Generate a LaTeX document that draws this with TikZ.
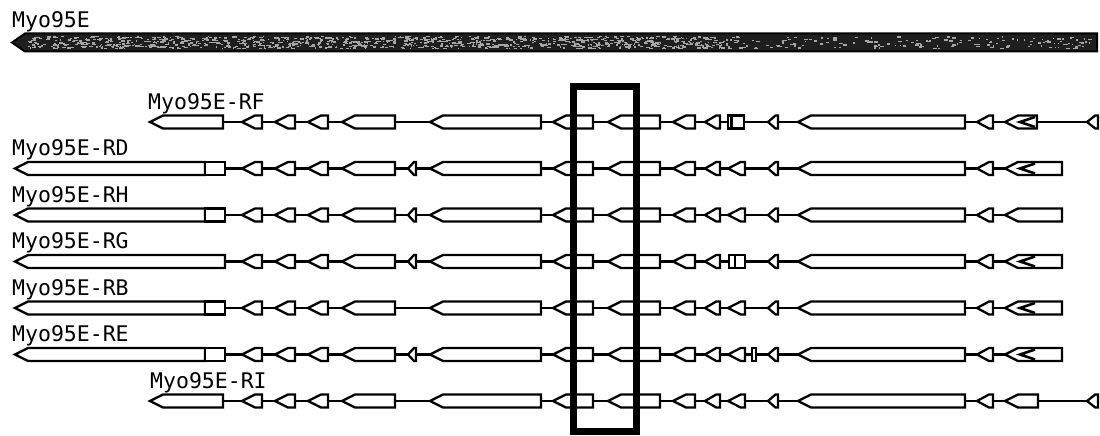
\documentclass[tikz,border=0pt]{standalone}
\usepackage{fontspec}
\newfontfamily\labfont{DejaVu Sans Mono}
\tikzset{
  exon/.style={draw=black, fill=white, line width=2.3pt, line join=miter},
  intron/.style={draw=black, line width=2.2pt},
  gname/.style={anchor=base west, inner sep=0pt, font=\labfont\fontsize{21.5}{22}\selectfont},
  hilite/.style={draw=black, line width=6.5pt},
  locus/.style={draw=black, fill=black!88, line width=2pt},
  speck/.style={fill=black!35},
}
% coding exon, pointed to the left: left tip x, right x, row y
\newcommand\cds[3]{%
  \pgfmathsetmacro\hd{min(13,0.75*(#2-#1))}%
  \draw[exon] (#1,#3) -- (#1+\hd,#3-6.5) -- (#2,#3-6.5) -- (#2,#3+6.5) -- (#1+\hd,#3+6.5) -- cycle;}
% untranslated block: left x, right x, row y
\newcommand\utr[3]{\draw[exon] (#1,#3-6.5) rectangle (#2,#3+6.5);}
% overlapping start marker inside the last exon
\newcommand\chev[1]{\draw[line width=2.6pt] (1035,#1-5) -- (1020,#1) -- (1035,#1+5);}
% exons shared by every transcript
\newcommand\shared[1]{%
  \cds{242}{262}{#1}\cds{275}{295}{#1}\cds{308}{328}{#1}\cds{342}{395}{#1}%
  \cds{430}{541}{#1}\cds{553}{593}{#1}\cds{608}{660}{#1}%
  \cds{673}{695}{#1}\cds{705}{720}{#1}%
  \cds{768}{778}{#1}\cds{798}{965}{#1}\cds{977}{993}{#1}}
\begin{document}
\begin{tikzpicture}[x=1pt, y=-1pt]
\useasboundingbox (0,0) rectangle (1100,436);

% gene locus
\node[gname] (gene) at (12,28) {Myo95E};
\draw[locus] (12,42.5) -- (25,33.5) -- (1097,33.5) -- (1097,51.5) -- (25,51.5) -- cycle;
\pgfmathsetseed{42}
\foreach \k in {1,...,500}{
  \pgfmathsetmacro\sx{27+1064*rnd}
  \pgfmathsetmacro\sy{36+12*rnd}
  \pgfmathsetmacro\sw{1+3*rnd}
  \fill[speck] (\sx,\sy) rectangle ++(\sw,1.3);
}
\foreach \k in {1,...,700}{
  \pgfmathsetmacro\sx{27+700*rnd}
  \pgfmathsetmacro\sy{36+12*rnd}
  \pgfmathsetmacro\sw{1+3*rnd}
  \fill[speck] (\sx,\sy) rectangle ++(\sw,1.3);
}

% Myo95E-RF
\def\ry{122}
\node[gname] (lrf) at (148,\ry-13) {Myo95E-RF};
\coordinate (rf-s) at (150,\ry); \coordinate (rf-e) at (1098,\ry);
\draw[intron] (rf-s) -- (rf-e);
\cds{150}{223}{\ry}\shared{\ry}
\utr{728}{744}{\ry}\draw[line width=3.5pt] (731.5,\ry-6) -- (731.5,\ry+6);
\cds{1005}{1037}{\ry}\chev{\ry}
\cds{1087}{1098}{\ry}

% Myo95E-RD
\def\ry{168.5}
\node[gname] (lrd) at (12,\ry-13) {Myo95E-RD};
\coordinate (rd-s) at (15,\ry); \coordinate (rd-e) at (1062,\ry);
\draw[intron] (rd-s) -- (rd-e);
\cds{15}{205}{\ry}\utr{205}{225}{\ry}\shared{\ry}
\cds{408}{416}{\ry}\cds{728}{745}{\ry}
\cds{1005}{1062}{\ry}\chev{\ry}

% Myo95E-RH
\def\ry{215}
\node[gname] (lrh) at (12,\ry-13) {Myo95E-RH};
\coordinate (rh-s) at (15,\ry); \coordinate (rh-e) at (1062,\ry);
\draw[intron] (rh-s) -- (rh-e);
\cds{15}{205}{\ry}\utr{205}{225}{\ry}\shared{\ry}
\cds{408}{416}{\ry}\cds{728}{745}{\ry}
\cds{1005}{1062}{\ry}

% Myo95E-RG
\def\ry{261.5}
\node[gname] (lrg) at (12,\ry-13) {Myo95E-RG};
\coordinate (rg-s) at (15,\ry); \coordinate (rg-e) at (1062,\ry);
\draw[intron] (rg-s) -- (rg-e);
\cds{15}{225}{\ry}\shared{\ry}
\cds{408}{416}{\ry}
\utr{729}{745}{\ry}\draw[line width=2.3pt] (735,\ry-6.5) -- (735,\ry+6.5);
\cds{1005}{1062}{\ry}\chev{\ry}

% Myo95E-RB
\def\ry{308}
\node[gname] (lrb) at (12,\ry-13) {Myo95E-RB};
\coordinate (rb-s) at (15,\ry); \coordinate (rb-e) at (1062,\ry);
\draw[intron] (rb-s) -- (rb-e);
\cds{15}{205}{\ry}\utr{205}{225}{\ry}\shared{\ry}
\cds{728}{745}{\ry}
\cds{1005}{1062}{\ry}\chev{\ry}

% Myo95E-RE
\def\ry{354.5}
\node[gname] (lre) at (12,\ry-13) {Myo95E-RE};
\coordinate (re-s) at (15,\ry); \coordinate (re-e) at (1062,\ry);
\draw[intron] (re-s) -- (re-e);
\cds{15}{205}{\ry}\utr{205}{225}{\ry}\shared{\ry}
\cds{408}{416}{\ry}\cds{728}{745}{\ry}
\utr{752}{756}{\ry}
\cds{1005}{1062}{\ry}\chev{\ry}

% Myo95E-RI
\def\ry{401}
\node[gname] (lri) at (150,\ry-13) {Myo95E-RI};
\coordinate (ri-s) at (150,\ry); \coordinate (ri-e) at (1098,\ry);
\draw[intron] (ri-s) -- (ri-e);
\cds{150}{223}{\ry}\shared{\ry}
\cds{728}{745}{\ry}
\cds{1005}{1038}{\ry}
\cds{1087}{1098}{\ry}

% highlighted exon pair
\draw[hilite] (573.5,86.5) rectangle (636.5,431.5);
\end{tikzpicture}
\end{document}
